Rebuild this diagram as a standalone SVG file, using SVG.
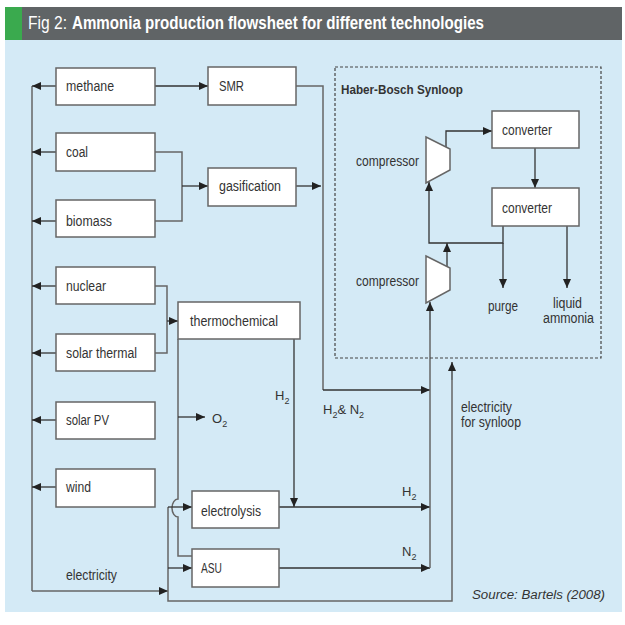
<svg xmlns="http://www.w3.org/2000/svg" width="625" height="625" viewBox="0 0 625 625">
<style>
.t{font-family:"Liberation Sans",Arial,sans-serif;font-size:14px;fill:#333}
.h{font-family:"Liberation Sans",Arial,sans-serif;font-size:18px;fill:#fff}
.box{fill:#fff;stroke:#666;stroke-width:1.5}
.ln{fill:none;stroke:#333;stroke-width:1.3}
.gl{fill:none;stroke:#666;stroke-width:1.5}
.sub{font-size:9px}
</style>
<defs>
<marker id="a" markerUnits="userSpaceOnUse" markerWidth="9" markerHeight="8" refX="9" refY="4" orient="auto">
<path d="M0,0 L9,4 L0,8 z" fill="#222"/>
</marker>
</defs>
<rect x="0" y="0" width="625" height="625" fill="#fff"/>
<rect x="5" y="40" width="617" height="572" fill="#d4eaf6"/>
<rect x="5" y="7" width="617" height="33" fill="#606466"/>
<rect x="5" y="7" width="17" height="33" fill="#3aaa4e"/>
<text class="h" x="28" y="29" textLength="39" lengthAdjust="spacingAndGlyphs">Fig 2:</text>
<text class="h" x="72" y="29" font-weight="bold" textLength="412" lengthAdjust="spacingAndGlyphs">Ammonia production flowsheet for different technologies</text>

<g id="connectors">
<path class="gl" d="M32,86 V591"/>
<path class="ln" d="M56,86 H32" marker-end="url(#a)"/>
<path class="ln" d="M56,152 H32" marker-end="url(#a)"/>
<path class="ln" d="M56,221 H32" marker-end="url(#a)"/>
<path class="ln" d="M56,286 H32" marker-end="url(#a)"/>
<path class="ln" d="M56,353 H32" marker-end="url(#a)"/>
<path class="ln" d="M56,420 H32" marker-end="url(#a)"/>
<path class="ln" d="M56,487 H32" marker-end="url(#a)"/>
<path class="gl" d="M32,591 H168" marker-end="url(#a)"/>
<path class="ln" d="M155,86 H208" marker-end="url(#a)"/>
<path class="gl" d="M155,152 H182 V221 H155"/>
<path class="ln" d="M182,186 H208" marker-end="url(#a)"/>
<path class="ln" d="M296,186 H321" marker-end="url(#a)"/>
<path class="gl" d="M296,86 H323 V390"/>
<path class="ln" d="M323,390 H430" marker-end="url(#a)"/>
<path class="gl" d="M155,286 H167 V353 H155"/>
<path class="ln" d="M167,321 H178" marker-end="url(#a)"/>
<path class="gl" d="M178,339 V499 A6,9 0 0 0 178,517 V556 H192"/>
<path class="ln" d="M178,417 H205" marker-end="url(#a)"/>
<path class="ln" d="M294,339 V507" marker-end="url(#a)"/>
<path class="ln" d="M279,507 H430" marker-end="url(#a)"/>
<path class="ln" d="M279,568 H430" marker-end="url(#a)"/>
<path class="gl" d="M430,568 V330"/>
<path class="ln" d="M430,330 V302" marker-end="url(#a)"/>
<path class="gl" d="M168,507 V601 H452 V380"/>
<path class="ln" d="M452,380 V362" marker-end="url(#a)"/>
<path class="ln" d="M168,507 H192" marker-end="url(#a)"/>
<path class="ln" d="M168,568 H192" marker-end="url(#a)"/>
<path class="ln" d="M447,268 V243" marker-end="url(#a)"/>
<path class="ln" d="M503,226 V243 H429 V182" marker-end="url(#a)"/>
<path class="ln" d="M503,243 V288" marker-end="url(#a)"/>
<path class="ln" d="M567,226 V288" marker-end="url(#a)"/>
<path class="ln" d="M446,150 V131 H492" marker-end="url(#a)"/>
<path class="ln" d="M535,148 V188" marker-end="url(#a)"/>
</g>

<rect x="335" y="67" width="266" height="291" fill="none" stroke="#444" stroke-width="1.2" stroke-dasharray="3,2"/>
<text class="t" x="341" y="94" font-weight="bold" textLength="122" lengthAdjust="spacingAndGlyphs" style="font-size:13.5px">Haber-Bosch Synloop</text>

<g id="methane"><rect class="box" x="56" y="68" width="99" height="37"/><text class="t" x="66" y="91" textLength="48" lengthAdjust="spacingAndGlyphs">methane</text></g>
<g id="coal"><rect class="box" x="56" y="133" width="99" height="38"/><text class="t" x="66" y="157" textLength="22" lengthAdjust="spacingAndGlyphs">coal</text></g>
<g id="biomass"><rect class="box" x="56" y="200" width="99" height="37"/><text class="t" x="66" y="226" textLength="46" lengthAdjust="spacingAndGlyphs">biomass</text></g>
<g id="nuclear"><rect class="box" x="56" y="267" width="99" height="37"/><text class="t" x="66" y="291" textLength="40" lengthAdjust="spacingAndGlyphs">nuclear</text></g>
<g id="solar-thermal"><rect class="box" x="56" y="334" width="99" height="37"/><text class="t" x="66" y="358" textLength="71" lengthAdjust="spacingAndGlyphs">solar thermal</text></g>
<g id="solar-pv"><rect class="box" x="56" y="402" width="99" height="37"/><text class="t" x="66" y="425" textLength="43" lengthAdjust="spacingAndGlyphs">solar PV</text></g>
<g id="wind"><rect class="box" x="56" y="469" width="99" height="38"/><text class="t" x="66" y="492" textLength="25" lengthAdjust="spacingAndGlyphs">wind</text></g>
<g id="smr"><rect class="box" x="208" y="67" width="88" height="38"/><text class="t" x="219" y="91" textLength="25" lengthAdjust="spacingAndGlyphs">SMR</text></g>
<g id="gasification"><rect class="box" x="208" y="168" width="88" height="38"/><text class="t" x="219" y="191" textLength="62" lengthAdjust="spacingAndGlyphs">gasification</text></g>
<g id="thermochemical"><rect class="box" x="178" y="302" width="122" height="37"/><text class="t" x="190" y="326" textLength="88" lengthAdjust="spacingAndGlyphs">thermochemical</text></g>
<g id="electrolysis"><rect class="box" x="192" y="491" width="87" height="37"/><text class="t" x="201" y="516" textLength="60" lengthAdjust="spacingAndGlyphs">electrolysis</text></g>
<g id="asu"><rect class="box" x="192" y="549" width="87" height="38"/><text class="t" x="201" y="573" textLength="21" lengthAdjust="spacingAndGlyphs">ASU</text></g>
<g id="converter1"><rect class="box" x="492" y="111" width="87" height="37"/><text class="t" x="502" y="135" textLength="50" lengthAdjust="spacingAndGlyphs">converter</text></g>
<g id="converter2"><rect class="box" x="492" y="188" width="87" height="38"/><text class="t" x="502" y="213" textLength="50" lengthAdjust="spacingAndGlyphs">converter</text></g>
<g id="compressor1"><path class="box" d="M426,137 L450,149 L450,170 L426,183 Z"/><text class="t" x="356" y="166" textLength="63" lengthAdjust="spacingAndGlyphs">compressor</text></g>
<g id="compressor2"><path class="box" d="M426,256 L450,268 L450,290 L426,303 Z"/><text class="t" x="356" y="286" textLength="63" lengthAdjust="spacingAndGlyphs">compressor</text></g>

<g id="labels">
<text class="t" x="488" y="311" textLength="30" lengthAdjust="spacingAndGlyphs">purge</text>
<text class="t" x="553" y="308" textLength="29" lengthAdjust="spacingAndGlyphs">liquid</text>
<text class="t" x="543" y="323" textLength="51" lengthAdjust="spacingAndGlyphs">ammonia</text>
<text class="t" x="275" y="400" style="font-size:13px">H<tspan class="sub" dy="4">2</tspan></text>
<text class="t" x="212" y="423" style="font-size:13px">O<tspan class="sub" dy="4">2</tspan></text>
<text class="t" x="323" y="414" style="font-size:13px">H<tspan class="sub" dy="4">2</tspan><tspan dy="-4">&amp; N</tspan><tspan class="sub" dy="4">2</tspan></text>
<text class="t" x="402" y="496" style="font-size:13px">H<tspan class="sub" dy="4">2</tspan></text>
<text class="t" x="402" y="556" style="font-size:13px">N<tspan class="sub" dy="4">2</tspan></text>
<text class="t" x="461" y="412" textLength="51" lengthAdjust="spacingAndGlyphs">electricity</text>
<text class="t" x="461" y="427" textLength="60" lengthAdjust="spacingAndGlyphs">for synloop</text>
<text class="t" x="66" y="580" textLength="51" lengthAdjust="spacingAndGlyphs">electricity</text>
<text x="472" y="599" textLength="133" lengthAdjust="spacingAndGlyphs" style="font-family:'Liberation Sans',Arial,sans-serif;font-size:12px;font-style:italic;fill:#333">Source: Bartels (2008)</text>
</g>
</svg>
